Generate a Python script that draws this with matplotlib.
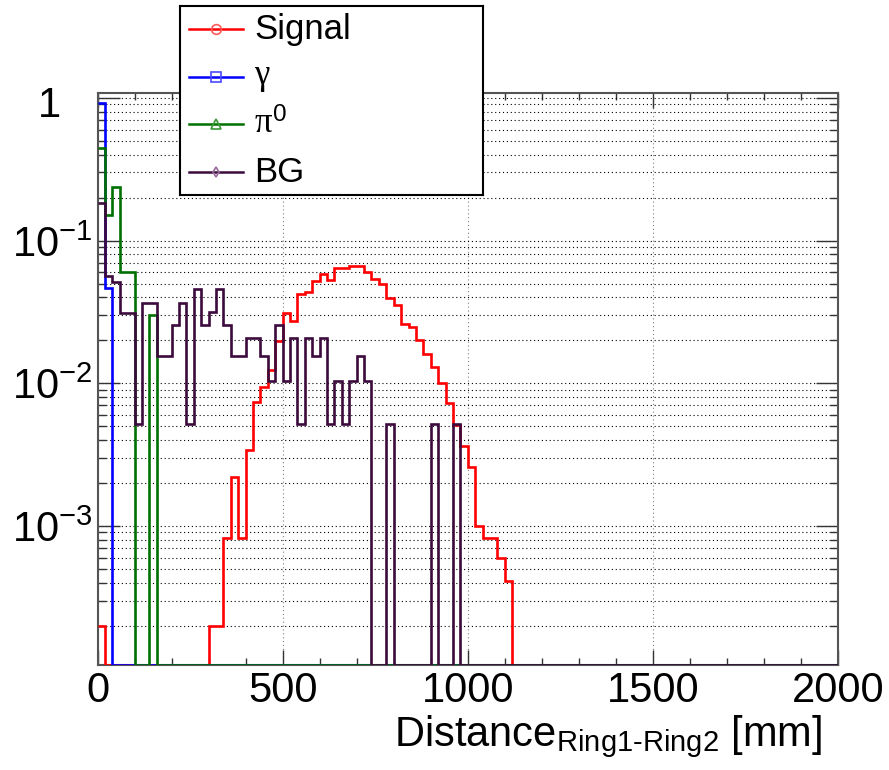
import numpy as np
import matplotlib.pyplot as plt
import matplotlib.transforms as mtransforms
from matplotlib.ticker import FixedLocator, MultipleLocator, LogLocator, NullFormatter

plt.rcParams['font.family'] = ['Liberation Sans', 'DejaVu Sans']
plt.rcParams['mathtext.fontset'] = 'custom'
plt.rcParams['mathtext.rm'] = 'Liberation Sans'
plt.rcParams['mathtext.it'] = 'Liberation Serif'
plt.rcParams['mathtext.bf'] = 'Liberation Sans:bold'

# histogram binning: 100 bins of 20 mm from 0 to 2000 mm
bin_width = 20
n_bins = 100

# bin contents (bins not listed are empty)
signal = [2.0e-4, 0, 0, 0, 0, 0, 0, 0, 0, 0,
          0, 0, 0, 0, 0, 2.0e-4, 2.0e-4, 8.2e-4, 2.2e-3, 8.2e-4,
          3.4e-3, 7.4e-3, 9.4e-3, 0.0123, 0.0199, 0.031, 0.0275, 0.0423, 0.0435, 0.0521,
          0.058, 0.053, 0.064, 0.064, 0.0667, 0.0667, 0.060, 0.0536, 0.0494, 0.0394,
          0.0354, 0.026, 0.0247, 0.0201, 0.016, 0.0129, 0.0100, 0.00724, 0.0051, 0.00364,
          0.0026, 0.0010, 8.2e-4, 8.2e-4, 6.0e-4, 4.1e-4]
gamma = [0.926, 0.0464]
pi0 = [0.443, 0.151, 0.239, 0.060, 0.060, 0, 0, 0.030]
bg = [0.183, 0.0568, 0.0511, 0.0313, 0.0313, 0.0052, 0.0364, 0.0364, 0.0154, 0.0154,
      0.0255, 0.0364, 0.0052, 0.046, 0.0255, 0.0315, 0.046, 0.0255, 0.0154, 0.0154,
      0.0206, 0.0206, 0.0154, 0.0104, 0.0255, 0.0104, 0.0206, 0.0052, 0.0206, 0.0154,
      0.0206, 0.0052, 0.0104, 0.0052, 0.0104, 0.0154, 0.0104, 0, 0, 0.0052,
      0, 0, 0, 0, 0, 0.0052, 0, 0, 0.0052]

labels = ['Signal', r'$\gamma$', r'$\pi^{\mathregular{0}}$', 'BG']
colors = ['#ff0000', '#0000ff', '#007000', '#3c0a3c']
marker_colors = ['#ff5a5a', '#4a4aff', '#3a9a3a', '#9a6a9a']
markers = ['o', 's', '^', 'd']

y_tick_vals = [1e-3, 1e-2, 1e-1, 1]
y_tick_text = [r'$\mathregular{10^{-3}}$', r'$\mathregular{10^{-2}}$', r'$\mathregular{10^{-1}}$', '1']
x_ticks = [0, 500, 1000, 1500, 2000]

ymin, ymax = 1.06e-4, 1.087
edges = np.arange(n_bins + 1) * bin_width


def full(vals):
    h = np.zeros(n_bins)
    h[:len(vals)] = vals
    return h


fig = plt.figure(figsize=(8.89, 7.7), dpi=100)
ax = fig.add_axes([97.5 / 889, 1 - 665 / 770, 740.5 / 889, 572.3 / 770])
ax.set_yscale('log')
ax.set_xlim(0, 2000)
ax.set_ylim(ymin, ymax)

for vals, c in zip([signal, gamma, pi0, bg], colors):
    # empty bins sit on the frame bottom, like ROOT draws them
    h = np.maximum(full(vals), ymin)
    ax.stairs(h, edges, baseline=None, color=c, lw=1.9, zorder=3)

# grid
ax.yaxis.set_major_locator(FixedLocator(y_tick_vals))
ax.yaxis.set_minor_locator(LogLocator(base=10, subs=np.arange(2, 10)))
ax.yaxis.set_major_formatter(NullFormatter())
ax.yaxis.set_minor_formatter(NullFormatter())
ax.xaxis.set_major_locator(FixedLocator(x_ticks))
ax.xaxis.set_minor_locator(MultipleLocator(100))
ax.grid(True, axis='y', which='both', color='black', ls=(0, (1, 2.5)), lw=0.8)
ax.grid(True, axis='x', which='major', color='gray', ls=(0, (1, 2.5)), lw=0.8)
ax.set_axisbelow(True)

for s in ax.spines.values():
    s.set_color('#555555')
    s.set_linewidth(1.5)

ax.tick_params(axis='both', which='both', direction='in', top=True, right=True,
               color='#333333', width=1.0)
ax.tick_params(axis='x', which='major', length=11, labelsize=30, pad=4)
ax.tick_params(axis='x', which='minor', length=5)
ax.tick_params(axis='y', which='major', length=16)
ax.tick_params(axis='y', which='minor', length=6)

# y tick labels, ROOT style: the base "10" lines up, exponent sticks out
ytrans = mtransforms.blended_transform_factory(fig.transFigure, ax.transData)
for v, t in zip(y_tick_vals, y_tick_text):
    if t == '1':
        off = mtransforms.ScaledTranslation(0, -8 / 100, fig.dpi_scale_trans)
        ax.text(38 / 889, v, t, transform=ytrans + off, ha='left', va='center',
                fontsize=30, clip_on=False)
    else:
        off = mtransforms.ScaledTranslation(0, -5 / 100, fig.dpi_scale_trans)
        ax.text(12 / 889, v, t, transform=ytrans + off, ha='left', va='center',
                fontsize=30, clip_on=False)

fig.text(822 / 889, 1 - 746.7 / 770,
         r'Distance$_{\mathregular{Ring1}\text{-}\mathregular{Ring2}}$ [mm]',
         ha='right', va='baseline', fontsize=30)

# legend box
leg = fig.add_axes([180 / 889, 1 - 195 / 770, 303 / 889, 189 / 770])
leg.set_xlim(0, 303)
leg.set_ylim(195, 6)
leg.set_xticks([])
leg.set_yticks([])
for s in leg.spines.values():
    s.set_color('black')
    s.set_linewidth(1.5)
entry_y = [29, 77, 124, 172]
for y, lab, c, mc, m in zip(entry_y, labels, colors, marker_colors, markers):
    leg.plot([9, 63], [y, y], color=c, lw=1.8)
    ms = 5 if m == 'd' else 7
    leg.plot([36], [y], marker=m, ms=ms, mfc='none', mec=mc, mew=1.2)
    leg.text(74, y, lab, va='center', ha='left', fontsize=25)

fig.savefig('out.png', dpi=100)
